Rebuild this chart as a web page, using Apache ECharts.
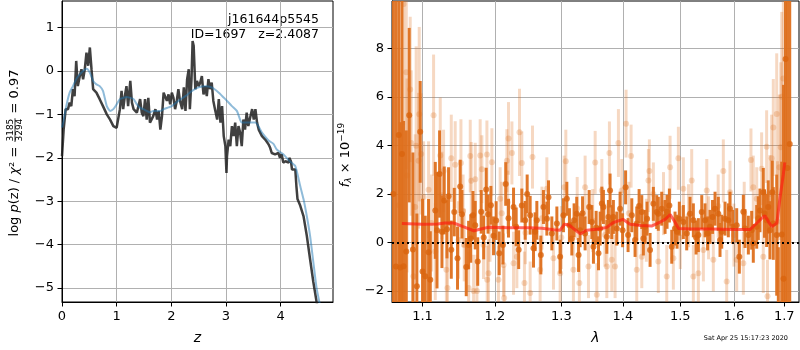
<!DOCTYPE html>
<html><head><meta charset="utf-8">
<script src="https://cdn.jsdelivr.net/npm/echarts@6/dist/echarts.min.js"></script>
<style>html,body{margin:0;padding:0;background:#fff}#c{width:800px;height:350px}</style>
</head><body><div id="c"></div>
<script>
// ---------- left panel: log p(z) ----------
const zDark = [0,0.03,0.067,0.11,0.14,0.17,0.2,0.23,0.26,0.29,
0.325,0.356,0.386,0.417,0.448,0.479,0.51,0.54,0.57,0.63,
0.69,0.75,0.82,0.88,0.94,1.0,1.06,1.09,1.12,1.15,
1.18,1.21,1.25,1.28,1.31,1.37,1.43,1.46,1.49,1.52,
1.55,1.58,1.61,1.67,1.71,1.74,1.77,1.80,1.83,1.86,
1.89,1.92,1.95,1.98,2.01,2.04,2.07,2.10,2.13,2.16,
2.20,2.23,2.26,2.29,2.32,2.34,2.37,2.39,2.41,2.44,
2.47,2.50,2.53,2.56,2.59,2.62,2.65,2.68,2.71,2.74,
2.77,2.80,2.84,2.87,2.90,2.93,2.96,2.99,3.01,3.02,
3.05,3.08,3.11,3.14,3.17,3.20,3.23,3.26,3.29,3.32,
3.35,3.38,3.41,3.45,3.48,3.51,3.54,3.57,3.60,3.66,
3.72,3.78,3.81,3.84,3.87,3.90,3.93,3.96,3.99,4.02,
4.05,4.09,4.12,4.15,4.16,4.19,4.21,4.24,4.27,4.29,
4.31,4.36,4.42,4.48,4.54,4.60,4.66,4.70];
const logpDark = [-1.96,-1.35,-0.88,-0.88,-0.73,-0.81,-0.42,-0.58,0.23,-0.35,
-0.12,0.04,-0.19,0.04,0.42,0.12,0.54,0.04,-0.42,-0.5,
-0.65,-0.81,-1.0,-1.12,-1.27,-1.31,-0.88,-0.46,-0.88,-0.58,
-0.35,-0.81,-0.23,-0.73,-0.88,-0.96,-0.65,-0.96,-1.04,-0.65,
-1.12,-0.62,-1.19,-1.04,-0.88,-1.12,-0.92,-1.35,-1.04,-0.5,
-0.5,-0.69,-0.54,-0.77,-0.5,-0.62,-0.88,-0.69,-0.42,-0.69,
-0.88,-0.38,-0.92,-0.19,0.04,-0.88,-0.19,0.69,0.58,-0.42,
-0.23,-0.35,-0.27,-0.12,-0.54,-0.35,-0.58,-0.19,-0.42,-0.27,
-0.69,-0.88,-1.12,-0.65,-1.19,-0.81,-1.5,-1.73,-2.35,-1.96,
-1.58,-1.73,-1.27,-1.5,-1.19,-1.73,-1.27,-1.42,-1.73,-1.12,
-1.35,-0.96,-1.27,-1.04,-0.88,-1.12,-0.88,-1.19,-1.35,-1.5,
-1.58,-1.69,-1.77,-1.89,-1.85,-1.92,-1.96,-1.89,-2.0,-1.92,
-2.11,-2.08,-2.04,-2.11,-2.0,-2.08,-2.27,-2.31,-2.27,-2.65,
-2.95,-3.1,-3.34,-3.79,-4.33,-4.86,-5.32,-5.6];
const zSmooth = [0,0.02,0.08,0.14,0.2,0.26,0.325,0.386,0.45,0.51,
0.57,0.63,0.69,0.75,0.82,0.88,0.94,1.0,1.06,1.12,
1.18,1.25,1.31,1.37,1.43,1.49,1.55,1.61,1.67,1.74,
1.80,1.86,1.95,2.01,2.13,2.26,2.38,2.5,2.62,2.74,
2.87,2.99,3.11,3.20,3.26,3.29,3.41,3.54,3.66,3.78,
3.87,3.93,4.05,4.17,4.27,4.36,4.42,4.48,4.54,4.60,
4.66,4.71,4.76];
const logpSmooth = [-1.3,-1.2,-0.8,-0.5,-0.35,-0.19,-0.08,0.0,0.05,-0.04,
-0.23,-0.31,-0.35,-0.46,-0.81,-0.92,-0.88,-0.77,-0.65,-0.62,
-0.6,-0.62,-0.65,-0.77,-0.85,-0.88,-0.92,-0.95,-0.92,-0.92,
-0.92,-0.88,-0.84,-0.81,-0.69,-0.58,-0.46,-0.38,-0.35,-0.38,
-0.5,-0.65,-0.81,-0.92,-1.12,-1.19,-1.19,-1.19,-1.42,-1.6,
-1.68,-1.81,-1.92,-2.08,-2.19,-2.65,-2.95,-3.34,-3.79,-4.4,
-5.0,-5.32,-5.7];
const zTicks = [0,1,2,3,4];
const logpTicks = [-5,-4,-3,-2,-1,0,1];

// ---------- right panel: spectrum ----------
const lamDark = [1.0620,1.0653,1.0690,1.0709,1.0731,1.0752,1.0787,1.0825,1.0873,1.0925,
1.0969,1.1000,1.1036,1.1080,1.1103,1.1170,1.1193,1.1228,1.1260,1.1291,
1.1328,1.1350,1.1387,1.1428,1.1473,1.1510,1.1534,1.1594,1.1627,1.1657,
1.1688,1.1720,1.1755,1.1804,1.1840,1.1876,1.1902,1.1943,1.1981,1.2019,
1.2063,1.2117,1.2158,1.2199,1.2273,1.2312,1.2349,1.2396,1.2446,1.2476,
1.2521,1.2571,1.2596,1.2622,1.2683,1.2723,1.2775,1.2800,1.2852,1.2930,
1.2981,1.3033,1.3086,1.3127,1.3165,1.3201,1.3243,1.3272,1.3296,1.3336,
1.3377,1.3442,1.3486,1.3512,1.3556,1.3594,1.3621,1.3649,1.3675,1.3731,
1.3757,1.3785,1.3813,1.3840,1.3897,1.3952,1.3994,1.4045,1.4087,1.4150,
1.4206,1.4235,1.4275,1.4321,1.4349,1.4378,1.4413,1.4465,1.4522,1.4581,
1.4609,1.4669,1.4728,1.4763,1.4805,1.4847,1.4906,1.4942,1.4983,1.5056,
1.5117,1.5177,1.5238,1.5288,1.5330,1.5393,1.5454,1.5501,1.5547,1.5594,
1.5641,1.5703,1.5735,1.5767,1.5830,1.5893,1.5925,1.5977,1.6054,1.6105,
1.6183,1.6216,1.6281,1.6346,1.6378,1.6445,1.6477,1.6510,1.6576,1.6600,
1.6643,1.6675,1.6709,1.6756,1.6777,1.6846,1.6879,1.6948,1.6985,1.7026,
1.7063,1.7112];
const fluxDark = [2.0,-1.0,4.43,-1.04,3.65,-0.99,-0.38,5.25,-0.29,-1.81,
4.56,-1.2,-1.40,-0.41,-1.54,1.32,0.5,2.82,0.44,1.73,
0.54,1.9,-0.3,1.25,-0.65,2.31,1.16,-1.02,-0.11,0.16,
1.12,0.71,-0.79,1.26,0.2,2.18,1.16,1.53,0.27,0.9,
-0.45,-0.11,2.41,1.0,1.46,0.64,-0.3,1.52,0.91,2.0,
1.12,-0.24,0.44,0.91,-0.52,1.46,0.98,1.86,0.37,0.78,
-0.59,1.12,1.8,0.71,0.16,0.91,1.18,-0.52,0.5,1.2,
0.37,1.46,0.84,-0.18,0.6,-0.45,0.57,1.6,1.46,0.23,
1.05,2.14,0.84,1.05,0.57,1.39,0.5,2.27,0.3,1.12,
0.1,0.78,1.5,1.25,0.16,0.64,0.98,-0.31,1.59,1.25,
1.18,1.39,1.05,1.26,1.52,-0.18,0.57,0.44,0.98,0.84,
0.37,1.18,0.91,0.2,0.3,1.25,0.91,0.37,0.64,1.05,
1.39,1.18,0.1,0.44,0.98,0.91,1.39,0.64,0.71,-0.59,
1.26,0.57,0.3,0.5,-0.04,0.64,1.0,1.32,2.07,1.19,
0.91,1.46,0.5,2.07,0.78,0.3,-3.0,0.33,-1.5,7.57,
3.07,4.06];
const errDark = [15,12,12,6,10,6,5,3.6,4,3,
2.1,3,2.5,2.2,2,2,2.4,1.8,1.5,1.4,
1.2,1.2,1.2,1.0,1.3,1.1,1.0,1.2,1.0,1.0,
1.0,1.0,1.0,0.9,0.9,0.9,0.8,0.8,0.8,0.8,
0.9,0.8,0.9,0.8,0.8,0.8,0.8,0.7,0.8,0.8,
0.8,0.8,0.8,0.8,0.8,0.7,0.7,0.7,0.7,0.7,
0.7,0.7,0.7,0.7,0.7,0.7,0.7,0.7,0.7,0.7,
0.7,0.7,0.7,0.7,0.7,0.7,0.7,0.7,0.7,0.7,
0.7,0.7,0.7,0.7,0.7,0.7,0.7,0.7,0.7,0.7,
0.7,0.7,0.7,0.7,0.7,0.7,0.7,0.7,0.7,0.7,
0.7,0.7,0.7,0.7,0.7,0.7,0.7,0.7,0.7,0.7,
0.7,0.7,0.7,0.7,0.7,0.7,0.7,0.7,0.7,0.7,
0.7,0.7,0.7,0.7,0.7,0.7,0.7,0.7,0.7,0.7,
0.7,0.8,0.8,0.8,0.8,0.9,0.9,0.9,1.0,1.0,
1.1,1.1,1.2,1.3,1.5,2.5,2.8,3,8,12,
10,10];

const lamLight = [1.0690,1.0752,1.0787,1.0796,1.0838,1.0851,1.0880,1.0903,1.0916,1.0947,
1.0956,1.0982,1.1014,1.1080,1.1120,1.1147,1.1170,1.1237,1.1260,1.1282,
1.1320,1.1335,1.1387,1.1441,1.1487,1.1520,1.1550,1.1566,1.1627,1.1650,
1.1664,1.1697,1.1720,1.1744,1.1790,1.1814,1.1837,1.1886,1.1890,1.1909,
1.1930,1.1957,1.2052,1.2077,1.2100,1.2126,1.2136,1.2175,1.2187,1.2199,
1.2249,1.2273,1.2322,1.2361,1.2396,1.2435,1.2450,1.2521,1.2556,1.2672,
1.2700,1.2775,1.2877,1.2981,1.3000,1.3044,1.3070,1.3190,1.3250,1.3285,
1.3377,1.3431,1.3500,1.3540,1.3567,1.3649,1.3700,1.3731,1.3774,1.3813,
1.3868,1.3924,1.3980,1.4053,1.4100,1.4138,1.4235,1.4321,1.4400,1.4436,
1.4453,1.4522,1.4609,1.4700,1.4758,1.4817,1.4876,1.4966,1.5000,1.5056,
1.5150,1.5208,1.5238,1.5330,1.5423,1.5486,1.5520,1.5609,1.5700,1.5798,
1.5862,1.5925,1.6000,1.6054,1.6183,1.6200,1.6332,1.6378,1.6445,1.6543,
1.6576,1.6643,1.6660,1.6709,1.6743,1.6777,1.6846,1.6862,1.6899,1.6928,
1.6948,1.6981];
const fluxLight = [1.53,9.84,7.02,2.76,6.31,4.1,-1.4,1.46,3.99,3.37,
5.29,3.65,1.87,2.17,0.8,5.25,-0.38,3.58,1.94,2.95,
-1.13,-1.88,3.47,3.2,0.1,3.28,1.3,-0.11,-1.88,3.56,
2.54,-2.01,2.61,-2.01,3.58,3.02,-0.11,3.63,-1.54,-1.27,
0.6,3.31,-1.54,1.8,1.2,-0.93,-2.29,3.37,1.66,4.29,
3.69,-0.86,-0.59,4.54,3.28,-1.68,0.4,-2.09,3.52,-1.13,
1.0,2.21,-0.65,-1.27,0.2,2.28,3.35,-1.13,1.4,-1.68,
2.28,-1.0,0.9,3.3,-2.16,2.14,0.3,-1.0,3.69,-0.72,
-1.0,4.1,2.14,4.9,1.2,3.56,-1.13,-0.59,0.5,2.55,
2.95,2.0,-0.79,1.6,-1.41,3.1,-0.65,3.47,0.2,2.21,
1.1,2.55,-1.41,-1.27,-0.31,2.14,0.6,-0.72,1.5,2.95,
-1.61,2.07,0.3,-0.72,-0.86,1.2,3.4,2.28,1.8,3.04,
-0.59,3.95,-2.22,2.0,3.47,4.74,5.3,0.85,3.1,3.93,
6.01,6.76];
const errLight = [6,5,4,4,3,3,3,3,4.1,2.8,
3.6,2.5,2.3,2,2,2.5,2,2.4,1.8,1.7,
1.8,1.6,1.8,1.8,1.6,1.8,1.5,1.5,1.5,1.5,
1.6,1.5,1.5,1.5,1.5,1.4,1.4,1.4,1.4,1.4,
1.4,1.4,1.4,1.3,1.3,1.3,1.3,1.3,1.3,1.5,
1.3,1.3,1.3,1.8,1.3,1.3,1.3,1.3,1.3,1.3,
1.3,1.3,1.3,1.3,1.3,1.3,1.3,1.3,1.3,1.3,
1.3,1.3,1.3,1.3,1.3,1.3,1.3,1.3,1.3,1.3,
1.3,1.4,1.3,1.4,1.3,1.3,1.3,1.3,1.3,1.3,
1.3,1.3,1.3,1.3,1.3,1.3,1.3,1.3,1.3,1.3,
1.3,1.3,1.3,1.3,1.3,1.3,1.3,1.3,1.3,1.3,
1.3,1.3,1.3,1.3,1.3,1.3,1.3,1.3,1.3,1.5,
1.5,1.5,1.5,1.6,1.8,2,2.5,2.5,3,3.5,
3.5,4];

const lamModel = [1.073,1.10,1.12,1.13,1.142,1.155,1.17,1.18,1.19,1.22,1.25,1.27,1.288,1.298,1.305,1.312,1.32,1.33,1.34,1.36,1.373,1.384,1.40,1.412,1.43,1.45,1.465,1.473,1.482,1.49,1.497,1.52,1.56,1.60,1.631,1.645,1.655,1.661,1.668,1.675,1.685,1.691,1.698,1.701];
const fluxModel = [0.78,0.75,0.76,0.8,0.8,0.65,0.48,0.55,0.62,0.6,0.6,0.58,0.52,0.5,0.75,0.72,0.55,0.35,0.5,0.55,0.62,0.82,0.95,0.75,0.7,0.68,0.85,0.95,1.15,0.85,0.57,0.55,0.55,0.53,0.53,0.8,1.0,1.1,0.85,0.65,0.8,1.8,2.8,3.3];
const lamTicks = [1.1,1.2,1.3,1.4,1.5,1.6,1.7];
const fluxTicks = [-2,0,2,4,6,8];

// ---------- helpers ----------
const FONT = 'DejaVu Sans';
const ORANGE = '222,112,30';
const minusFmt = v => String(v).replace('-', '\u2212');
const mctx = document.createElement('canvas').getContext('2d');
function textW(t, size, italic) { mctx.font = (italic ? 'italic ' : '') + size + 'px "' + FONT + '"'; return mctx.measureText(t).width; }
function vLabel(parts, cx, cy) {
  let u = 0; const kids = [];
  parts.forEach(p => {
    if (p.frac) {
      const w = Math.max(textW(p.frac[0], p.size), textW(p.frac[1], p.size)) + 2;
      kids.push({type:'text', x:u + w / 2, y:-p.gap, style:{text:p.frac[0], fontSize:p.size, fontFamily:FONT, fill:'#000', textAlign:'center', textVerticalAlign:'middle'}});
      kids.push({type:'text', x:u + w / 2, y:p.gap, style:{text:p.frac[1], fontSize:p.size, fontFamily:FONT, fill:'#000', textAlign:'center', textVerticalAlign:'middle'}});
      kids.push({type:'rect', shape:{x:u + 0.5, y:-0.4, width:w - 1, height:0.8}, style:{fill:'#000'}});
      u += w;
    } else {
      kids.push({type:'text', x:u, y:p.dy || 0, style:{text:p.t, fontSize:p.size, fontFamily:FONT, fontStyle:p.italic ? 'italic' : 'normal', fill:'#000', textAlign:'left', textVerticalAlign:'middle'}});
      u += textW(p.t, p.size, p.italic);
    }
  });
  return {type:'group', x:cx, y:cy + u / 2, rotation:Math.PI / 2, children:kids, silent:true};
}
function errSeries(lams, fl, er, color, width, z) {
  return {
    type:'custom', xAxisIndex:1, yAxisIndex:1, z:z, clip:true, silent:true,
    data: lams.map((l, i) => [l, fl[i] - er[i], fl[i] + er[i]]),
    encode:{x:0, y:[1, 2]},
    renderItem(params, api) {
      const cs = params.coordSys;
      const p1 = api.coord([api.value(0), api.value(1)]);
      const p2 = api.coord([api.value(0), api.value(2)]);
      const top = cs.y, bot = cs.y + cs.height;
      const y1 = Math.min(Math.max(p1[1], top), bot), y2 = Math.min(Math.max(p2[1], top), bot);
      return {type:'line', shape:{x1:p1[0], y1:y1, x2:p2[0], y2:y2}, style:{stroke:color, lineWidth:width}};
    }
  };
}
const tickLabel = {fontFamily:FONT, fontSize:13, color:'#000', margin:8, formatter:minusFmt};
const gridLine = {show:true, lineStyle:{color:'#b0b0b0', width:1}};
const tickStyle = {show:true, length:4.5, lineStyle:{color:'#000', width:1}};
const axLine = {show:true, onZero:false, lineStyle:{color:'#000', width:1}};

const chart = echarts.init(document.getElementById('c'), null, {width:800, height:350});
chart.setOption({
  animation:false,
  backgroundColor:'#fff',
  grid:[
    {left:62, top:1, width:271, height:303, show:true, borderColor:'#000', borderWidth:1, backgroundColor:'transparent'},
    {left:392, top:1, width:407, height:303, show:true, borderColor:'#000', borderWidth:1, backgroundColor:'transparent'}
  ],
  xAxis:[
    {gridIndex:0, type:'value', min:0, max:4.96, name:'z', nameLocation:'middle', nameGap:29,
     nameTextStyle:{fontFamily:FONT, fontSize:14, fontStyle:'italic', color:'#000'},
     axisLine:axLine, axisTick:Object.assign({customValues:zTicks}, tickStyle),
     axisLabel:Object.assign({customValues:zTicks}, tickLabel), splitLine:gridLine},
    {gridIndex:1, type:'log', logBase:10, min:1.0603, max:1.7304, name:'\u03bb', nameLocation:'middle', nameGap:29,
     nameTextStyle:{fontFamily:FONT, fontSize:14, fontStyle:'italic', color:'#000'},
     axisLine:axLine, axisTick:Object.assign({customValues:lamTicks}, tickStyle),
     axisLabel:Object.assign({}, tickLabel, {customValues:lamTicks, formatter:v => Number(v).toFixed(1)}), splitLine:gridLine}
  ],
  yAxis:[
    {gridIndex:0, type:'value', min:-5.32, max:1.61,
     axisLine:axLine, axisTick:Object.assign({customValues:logpTicks}, tickStyle),
     axisLabel:Object.assign({customValues:logpTicks}, tickLabel), splitLine:gridLine},
    {gridIndex:1, type:'value', min:-2.46, max:9.96,
     axisLine:axLine, axisTick:Object.assign({customValues:fluxTicks}, tickStyle),
     axisLabel:Object.assign({customValues:fluxTicks}, tickLabel), splitLine:gridLine}
  ],
  series:[
    {type:'line', xAxisIndex:0, yAxisIndex:0, z:3, showSymbol:false, silent:true,
     data:zDark.map((z, i) => [z, logpDark[i]]),
     lineStyle:{color:'rgba(30,30,30,0.85)', width:2.5}},
    {type:'line', xAxisIndex:0, yAxisIndex:0, z:4, showSymbol:false, silent:true, smooth:0.2,
     data:zSmooth.map((z, i) => [z, logpSmooth[i]]),
     lineStyle:{color:'rgba(31,119,180,0.5)', width:2}},
    errSeries(lamLight, fluxLight, errLight, 'rgba(' + ORANGE + ',0.27)', 3, 3),
    {type:'scatter', xAxisIndex:1, yAxisIndex:1, z:3, silent:true, symbolSize:6,
     data:lamLight.map((l, i) => [l, fluxLight[i]]),
     itemStyle:{color:'rgba(' + ORANGE + ',0.32)', borderWidth:0}},
    errSeries(lamDark, fluxDark, errDark, 'rgba(' + ORANGE + ',0.95)', 3, 4),
    {type:'scatter', xAxisIndex:1, yAxisIndex:1, z:4, silent:true, symbolSize:6,
     data:lamDark.map((l, i) => [l, fluxDark[i]]),
     itemStyle:{color:'#d9640e', borderWidth:0}},
    {type:'line', xAxisIndex:1, yAxisIndex:1, z:5, showSymbol:false, silent:true,
     data:lamModel.map((l, i) => [l, fluxModel[i]]),
     lineStyle:{color:'rgba(255,25,15,0.65)', width:3},
     markLine:{silent:true, symbol:'none', label:{show:false}, animation:false,
       lineStyle:{color:'#000', type:[2, 3], width:2}, data:[{yAxis:0}]}}
  ],
  graphic:[
    {type:'text', right:800 - 319, top:13, silent:true,
     style:{text:'j161644p5545', fontFamily:FONT, fontSize:12.5, fill:'#000', textAlign:'right'}},
    {type:'text', right:800 - 319, top:28, silent:true,
     style:{text:'ID=1697   z=2.4087', fontFamily:FONT, fontSize:12.5, fill:'#000', textAlign:'right'}},
    vLabel([
      {t:'log ', size:13}, {t:'p', size:13, italic:true}, {t:'(z) / ', size:13},
      {t:'\u03c7', size:13, italic:true}, {t:'\u00b2', size:13}, {t:' = ', size:13},
      {frac:['3185', '3294'], size:9, gap:4.6}, {t:' = 0.97', size:13}
    ], 15, 153),
    vLabel([
      {t:'f', size:13, italic:true}, {t:'\u03bb', size:9, italic:true, dy:3},
      {t:' \u00d7 10', size:13}, {t:'\u221219', size:9, dy:-4.5}
    ], 346, 155),
    {type:'text', right:800 - 788, top:335, silent:true,
     style:{text:'Sat Apr 25 15:17:23 2020', fontFamily:FONT, fontSize:6.5, fill:'#000', textAlign:'right'}}
  ]
});
</script>
</body></html>
